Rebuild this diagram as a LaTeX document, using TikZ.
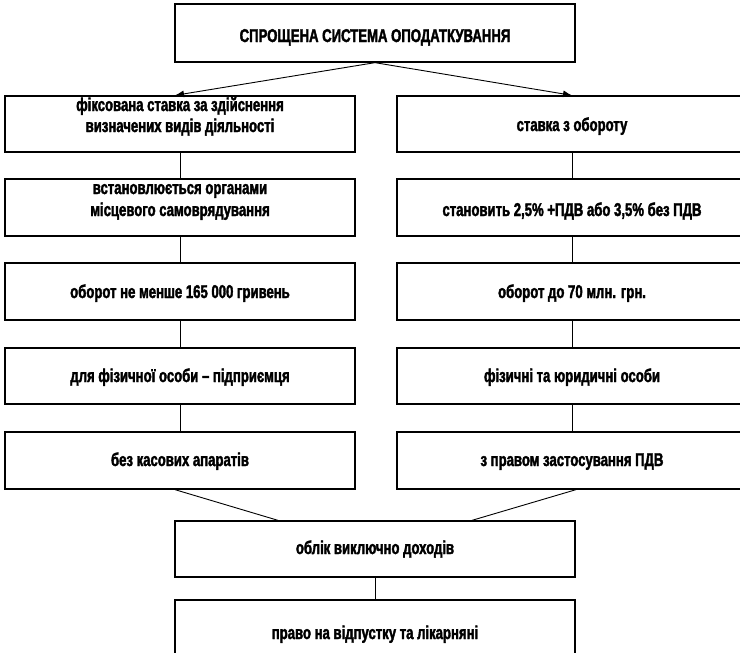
\documentclass[tikz,border=0pt]{standalone}
\usepackage{fontspec}
\setmainfont{Liberation Sans}[FakeStretch=0.71,FakeBold=2]
\usetikzlibrary{arrows.meta}
\tikzset{
  box/.style={draw=black, line width=1.3pt, fill=white, inner sep=0pt},
  txt/.style={font=\bfseries\fontsize{18.5}{20}\selectfont, inner sep=0pt, anchor=base},
  conn/.style={draw=black, line width=0.9pt},
  arr/.style={conn, -{Latex[length=9pt,width=7pt]}}
}
\begin{document}
\begin{tikzpicture}[x=1pt,y=-1pt]
\useasboundingbox (0,0) rectangle (740,653);
% boxes
\node[box, minimum width=400pt, minimum height=58pt] (top) at (375,33) {};
\node[box, minimum width=350pt, minimum height=56pt] (L1) at (180,124) {};
\node[box, minimum width=350pt, minimum height=56pt] (R1) at (572,124) {};
\node[box, minimum width=350pt, minimum height=57pt] (L2) at (180,207.5) {};
\node[box, minimum width=350pt, minimum height=57pt] (R2) at (572,207.5) {};
\node[box, minimum width=350pt, minimum height=57pt] (L3) at (180,291.5) {};
\node[box, minimum width=350pt, minimum height=57pt] (R3) at (572,291.5) {};
\node[box, minimum width=350pt, minimum height=56pt] (L4) at (180,376) {};
\node[box, minimum width=350pt, minimum height=56pt] (R4) at (572,376) {};
\node[box, minimum width=350pt, minimum height=57pt] (L5) at (180,460.5) {};
\node[box, minimum width=350pt, minimum height=57pt] (R5) at (572,460.5) {};
\node[box, minimum width=400pt, minimum height=56pt] (ob) at (375,549) {};
\node[box, minimum width=400pt, minimum height=60pt] (pr) at (375,630) {};
% texts
\node[txt] (tTop) at (375,42) {СПРОЩЕНА СИСТЕМА ОПОДАТКУВАННЯ};
\node[txt] (tL1a) at (180,111) {фіксована ставка за здійснення};
\node[txt] (tL1b) at (180,132) {визначених видів діяльності};
\node[txt] (tR1) at (572,131) {ставка з обороту};
\node[txt] (tL2a) at (180,194) {встановлюється органами};
\node[txt] (tL2b) at (180,216) {місцевого самоврядування};
\node[txt] (tR2) at (572,216) {становить 2,5\% +ПДВ або 3,5\% без ПДВ};
\node[txt] (tL3) at (180,298) {оборот не менше 165 000 гривень};
\node[txt] (tR3) at (572,298) {оборот до 70 млн. грн.};
\node[txt] (tL4) at (180,382) {для фізичної особи -- підприємця};
\node[txt] (tR4) at (572,382) {фізичні та юридичні особи};
\node[txt] (tL5) at (180,466) {без касових апаратів};
\node[txt] (tR5) at (572,466) {з правом застосування ПДВ};
\node[txt] (tOb) at (375,554) {облік виключно доходів};
\node[txt] (tPr) at (375,639) {право на відпустку та лікарняні};
% connectors
\draw[arr] (top.south) -- ([xshift=-5pt]L1.north);
\draw[arr] (top.south) -- (R1.north);
\draw[conn] (L1.south) -- (L2.north);
\draw[conn] (L2.south) -- (L3.north);
\draw[conn] (L3.south) -- (L4.north);
\draw[conn] (L4.south) -- (L5.north);
\draw[conn] (R1.south) -- (R2.north);
\draw[conn] (R2.south) -- (R3.north);
\draw[conn] (R3.south) -- (R4.north);
\draw[conn] (R4.south) -- (R5.north);
\draw[conn] ([xshift=-5pt]L5.south) -- ([xshift=-97pt]ob.north);
\draw[conn] ([xshift=4pt]R5.south) -- ([xshift=97pt]ob.north);
\draw[conn] (ob.south) -- (pr.north);
\end{tikzpicture}
\end{document}
